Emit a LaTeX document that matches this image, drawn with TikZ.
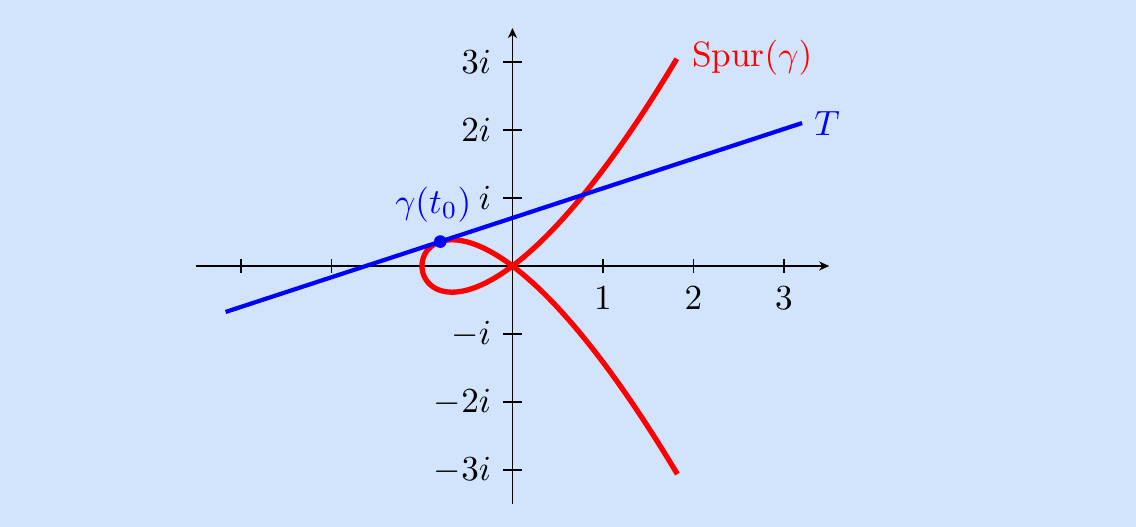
\documentclass[tikz,border=0pt]{standalone}
\usepackage{amsmath,amssymb}
\usetikzlibrary{arrows.meta}
\definecolor{bgblue}{RGB}{210,228,251}
\definecolor{curvered}{RGB}{255,0,0}
\definecolor{lineblue}{RGB}{0,0,255}

\begin{document}
\begin{tikzpicture}[x=0.905cm,y=0.68cm,
    axis/.style={black,line width=0.45pt,-{Stealth[length=1mm,width=0.9mm,inset=0.3mm]}},
    tick/.style={black,line width=0.45pt}]
    \fill[bgblue] (-5.663,-3.838) rectangle (6.890,3.912);
    % axes and ticks
    \draw[axis] (-3.5,0)--(3.5,0);
    \draw[axis] (0,-3.5)--(0,3.5);
    \foreach \x in {-3,-2,-1}{
      \draw[tick] (\x,-0.1)--(\x,0.1);
    }
    \foreach \x in {1,2,3}{
      \draw[tick] (\x,-0.1)--(\x,0.1);
      \node[below] (xl\x) at (\x,-0.12){$\x$};
    }
    \foreach \y/\lab in {3/{3i},2/{2i},1/{i},-1/{-i},-2/{-2i},-3/{-3i}}{
      \draw[tick] (-0.1,\y)--(0.1,\y);
      \node[left] (yl\y) at (-0.1,\y){$\lab$};
    }
    % trace of gamma(t) = (t^2-1) + i(t^3-t)
    \draw[curvered,line width=1.5pt,domain=-1.68:1.68,samples=150,smooth,variable=\t]
      plot ({\t*\t-1},{\t*\t*\t-\t});
    \node[curvered,right] (spur) at (1.85,3.06){Spur$(\gamma)$};
    % tangent at t_0
    \coordinate (tl) at (-3.17,-0.676);
    \coordinate (tr) at (3.2,2.102);
    \coordinate (p0) at (-0.7975,0.3589);
    \draw[lineblue,line width=1.2pt] (tl)--(tr);
    \node[lineblue,right] (tlab) at (tr){$T$};
    \fill[lineblue] (p0) circle (1.8pt);
    \node[lineblue,above=2pt,xshift=-2pt] (plab) at (p0){$\gamma(t_0)$};
  \end{tikzpicture}
\end{document}
